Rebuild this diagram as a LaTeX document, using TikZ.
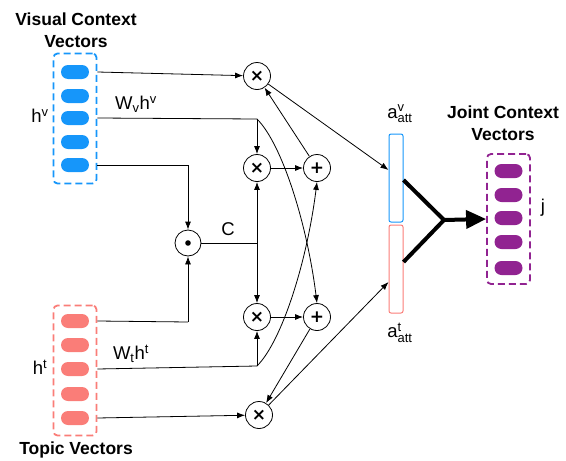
\documentclass[tikz,border=0pt]{standalone}
\usepackage{amsmath}
\usepackage{fontspec}
\setmainfont{Liberation Sans}
\newfontfamily\symfont{DejaVu Sans}
\usetikzlibrary{arrows.meta}

\definecolor{visblue}{RGB}{22,150,250}
\definecolor{topicred}{RGB}{250,125,120}
\definecolor{jointpurple}{RGB}{145,35,145}

\begin{document}
\begin{tikzpicture}[x=1pt,y=-1pt,>={Latex[length=8pt,width=6pt]},line width=0.8pt]
    \tikzstyle{pill}=[rectangle, rounded corners=7pt, minimum width=28pt, minimum height=14pt, inner sep=0pt]
    \tikzstyle{vec box}=[draw, rounded corners=4pt, minimum width=43pt, minimum height=130pt, line width=1.8pt, dash pattern=on 7pt off 4pt]
    \tikzstyle{op}=[circle, draw, minimum size=27pt, inner sep=0pt, font=\symfont\bfseries\fontsize{17}{17}\selectfont]
    \tikzstyle{att bar}=[draw, rounded corners=2pt, minimum width=14pt, minimum height=88pt, line width=1pt]
    \tikzstyle{title}=[font=\bfseries\fontsize{17.5}{22}\selectfont, align=center]
    \tikzstyle{annot}=[font=\fontsize{18.5}{20}\selectfont, inner sep=0pt]

    \useasboundingbox (0,0) rectangle (566,461);

    % Draw the visual context vectors
    \node[vec box, draw=visblue] (Vbox) at (75,118.5) {};
    \foreach \name / \y in {1/72,2/96,3/118,4/142,5/165}
      \node[pill, fill=visblue] (V-\name) at (75,\y) {};
    \node[title] (Vtitle) at (76,30) {Visual Context\\Vectors};
    \node[annot] (hv) at (40,116) {h$^{\text{v}}$};
    \node[annot] (Wvhv) at (136,104) {W$_{\text{v}}$h$^{\text{v}}$};

    % Draw the topic vectors
    \node[vec box, draw=topicred] (Tbox) at (75,370.5) {};
    \foreach \name / \y in {1/321,2/345,3/369,4/394,5/418}
      \node[pill, fill=topicred] (T-\name) at (75,\y) {};
    \node[title] (Ttitle) at (76,450) {Topic Vectors};
    \node[annot] (ht) at (40,367) {h$^{\text{t}}$};
    \node[annot] (Wtht) at (131,354) {W$_{\text{t}}$h$^{\text{t}}$};

    % Draw the joint context vectors
    \node[vec box, draw=jointpurple] (Jbox) at (508.5,219) {};
    \foreach \name / \y in {1/171,2/195,3/218,4/242,5/268}
      \node[pill, fill=jointpurple] (J-\name) at (508.5,\y) {};
    \node[title] (Jtitle) at (503,123) {Joint Context\\Vectors};
    \node[annot] (j) at (543,208) {j};

    % Draw the operations
    \node[op] (X-1) at (257,76) {×};
    \node[op] (X-2) at (257,168) {×};
    \node[op] (P-1) at (317,168) {+};
    \node[op] (X-3) at (257,317) {×};
    \node[op] (P-2) at (317,317) {+};
    \node[op] (X-4) at (259,415) {×};
    \node[circle, draw, minimum size=26pt, inner sep=0pt] (D) at (188,243) {};
    \fill (D.center) circle (2.8pt);
    \node[annot] (C) at (228,229) {C};

    % Draw the attention vectors
    \node[att bar, draw=visblue] (Av) at (396,178) {};
    \node[att bar, draw=topicred] (At) at (396,269) {};
    \node[annot] (av) at (400,114) {a$^{\text{v}}_{\text{att}}$};
    \node[annot] (at) at (400,333) {a$^{\text{t}}_{\text{att}}$};

    \coordinate (cv) at (257,119);
    \coordinate (ct) at (257,366);
    \coordinate (cc) at (257,243);
    \coordinate (cd1) at (188,165);
    \coordinate (cd2) at (188,322);
    \coordinate (jn) at (444,220);

    % Connect the visual vectors
    \draw[->] (V-1 -| Vbox.east) -- (X-1);
    \draw (V-3 -| Vbox.east) -- (cv);
    \draw[->] (cv) -- (X-2);
    \draw[->] (cv) .. controls +(25,25) and +(-10,-80) .. (P-2.north);
    \draw (V-5 -| Vbox.east) -- (cd1);
    \draw[->] (cd1) -- (D);

    % Connect the topic vectors
    \draw (T-1 -| Tbox.east) -- (cd2);
    \draw[->] (cd2) -- (D);
    \draw (T-3 -| Tbox.east) -- (ct);
    \draw[->] (ct) -- (X-3);
    \draw[->] (ct) .. controls +(25,-25) and +(-10,80) .. (P-1.south);
    \draw[->] (T-5 -| Tbox.east) -- (X-4);

    % Connect C and the operations
    \draw (D) -- (cc);
    \draw[->] (cc) -- (X-2);
    \draw[->] (cc) -- (X-3);
    \draw[->] (X-2) -- (P-1);
    \draw[->] (P-1) -- (X-1);
    \draw[->] (X-3) -- (P-2);
    \draw[->] (P-2) -- (X-4);
    \draw[->] (X-1) -- ([yshift=8pt]Av.west);
    \draw[->] (X-4) -- ([yshift=-13pt]At.west);

    % Join the attention vectors
    \draw[line width=4pt, line join=round] ([yshift=-2pt]Av.east) -- (jn) -- ([yshift=7pt]At.east);
    \draw[line width=4pt, -{Triangle[length=20pt,width=18pt]}] (jn) -- (Jbox.west);
\end{tikzpicture}
\end{document}
